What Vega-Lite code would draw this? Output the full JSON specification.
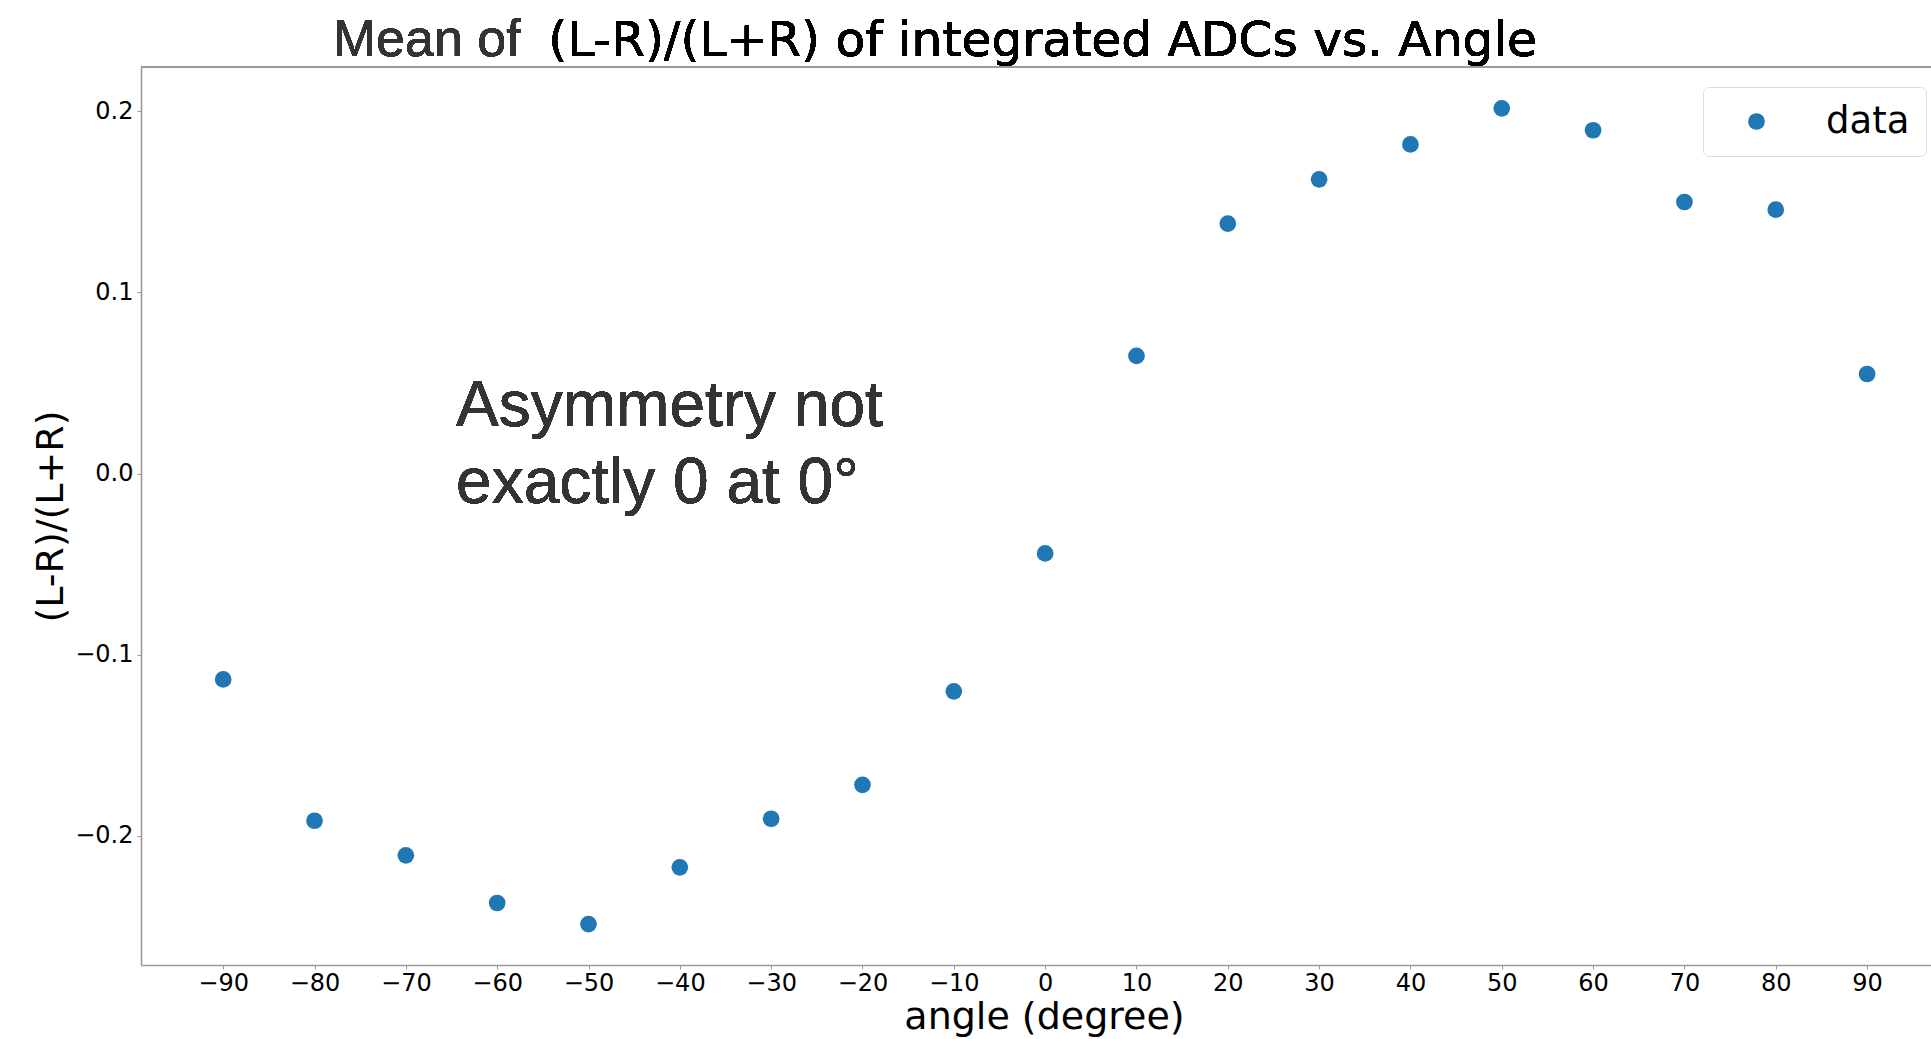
{
  "$schema": "https://vega.github.io/schema/vega-lite/v6.json",
  "autosize": "none",
  "width": 1790,
  "height": 898,
  "padding": {"left": 141, "top": 67, "right": 0, "bottom": 74},
  "background": "white",
  "config": {
    "view": {"stroke": null},
    "font": "DejaVu Sans",
    "axis": {
      "grid": false,
      "domainColor": "#9a9a9a",
      "domainWidth": 1.6,
      "tickColor": "#9a9a9a",
      "tickWidth": 1,
      "tickSize": 4,
      "labelFont": "DejaVu Sans",
      "labelFontSize": 24,
      "labelColor": "#000000",
      "titleFont": "DejaVu Sans",
      "titleFontSize": 38,
      "titleFontWeight": "normal",
      "titleColor": "#000000"
    }
  },
  "data": {
    "values": [
      {"angle": -90, "asym": -0.1136, "series": "data"},
      {"angle": -80, "asym": -0.1916, "series": "data"},
      {"angle": -70, "asym": -0.2107, "series": "data"},
      {"angle": -60, "asym": -0.2370, "series": "data"},
      {"angle": -50, "asym": -0.2486, "series": "data"},
      {"angle": -40, "asym": -0.2173, "series": "data"},
      {"angle": -30, "asym": -0.1905, "series": "data"},
      {"angle": -20, "asym": -0.1718, "series": "data"},
      {"angle": -10, "asym": -0.1202, "series": "data"},
      {"angle": 0, "asym": -0.0441, "series": "data"},
      {"angle": 10, "asym": 0.0649, "series": "data"},
      {"angle": 20, "asym": 0.1379, "series": "data"},
      {"angle": 30, "asym": 0.1623, "series": "data"},
      {"angle": 40, "asym": 0.1816, "series": "data"},
      {"angle": 50, "asym": 0.2015, "series": "data"},
      {"angle": 60, "asym": 0.1894, "series": "data"},
      {"angle": 70, "asym": 0.1498, "series": "data"},
      {"angle": 80, "asym": 0.1456, "series": "data"},
      {"angle": 90, "asym": 0.0549, "series": "data"}
    ]
  },
  "layer": [
    {
      "description": "top spine of the axes frame",
      "mark": {"type": "rule", "color": "#9a9a9a", "strokeWidth": 1.6},
      "encoding": {
        "y": {"datum": 0.2243, "type": "quantitative", "scale": {"domain": [-0.2712, 0.2243]}}
      }
    },
    {
      "mark": {"type": "point", "filled": true, "opacity": 1, "size": 279, "shape": "circle"},
      "encoding": {
        "x": {
          "field": "angle",
          "type": "quantitative",
          "scale": {"domain": [-99, 97], "nice": false, "zero": false},
          "axis": {
            "title": "angle (degree)",
            "values": [-90, -80, -70, -60, -50, -40, -30, -20, -10, 0, 10, 20, 30, 40, 50, 60, 70, 80, 90],
            "format": "d",
            "labelPadding": 2,
            "titlePadding": 3,
            "titleX": 903,
            "labelFlush": false,
            "labelOverlap": false
          }
        },
        "y": {
          "field": "asym",
          "type": "quantitative",
          "scale": {"domain": [-0.2712, 0.2243], "nice": false, "zero": false},
          "axis": {
            "title": "(L-R)/(L+R)",
            "values": [-0.2, -0.1, 0, 0.1, 0.2],
            "format": ".1f",
            "labelPadding": 4,
            "titlePadding": 4,
            "labelFlush": false,
            "labelOverlap": false
          }
        },
        "color": {
          "field": "series",
          "type": "nominal",
          "scale": {"range": ["#1f77b4"]},
          "legend": {
            "title": null,
            "orient": "none",
            "legendX": 1562,
            "legendY": 20,
            "symbolType": "circle",
            "symbolSize": 279,
            "symbolStrokeWidth": 0,
            "symbolOffset": 19,
            "labelOffset": 51,
            "labelFont": "DejaVu Sans",
            "labelFontSize": 37,
            "labelColor": "#000000",
            "padding": 16,
            "cornerRadius": 6,
            "strokeColor": "#dcdcdc",
            "fillColor": "rgba(255,255,255,0.8)"
          }
        }
      }
    },
    {
      "description": "annotation inside the axes",
      "mark": {"type": "text", "align": "left", "baseline": "alphabetic", "font": "Liberation Sans", "fontSize": 64, "lineHeight": 77, "color": "#333333"},
      "encoding": {
        "x": {"datum": -64.5, "type": "quantitative"},
        "y": {"datum": 0.0261, "type": "quantitative"},
        "text": {"value": ["Asymmetry not", "exactly 0 at 0°"]}
      }
    },
    {
      "description": "first part of the heading",
      "mark": {"type": "text", "align": "left", "baseline": "alphabetic", "font": "Liberation Sans", "fontSize": 52, "color": "#333333"},
      "encoding": {
        "x": {"datum": -78.0, "type": "quantitative"},
        "y": {"datum": 0.2302, "type": "quantitative"},
        "text": {"value": "Mean of"}
      }
    },
    {
      "description": "second part of the heading",
      "mark": {"type": "text", "align": "left", "baseline": "alphabetic", "font": "DejaVu Sans", "fontSize": 48.7, "color": "#000000"},
      "encoding": {
        "x": {"datum": -54.4, "type": "quantitative"},
        "y": {"datum": 0.2302, "type": "quantitative"},
        "text": {"value": "(L-R)/(L+R) of integrated ADCs vs. Angle"}
      }
    }
  ]
}
